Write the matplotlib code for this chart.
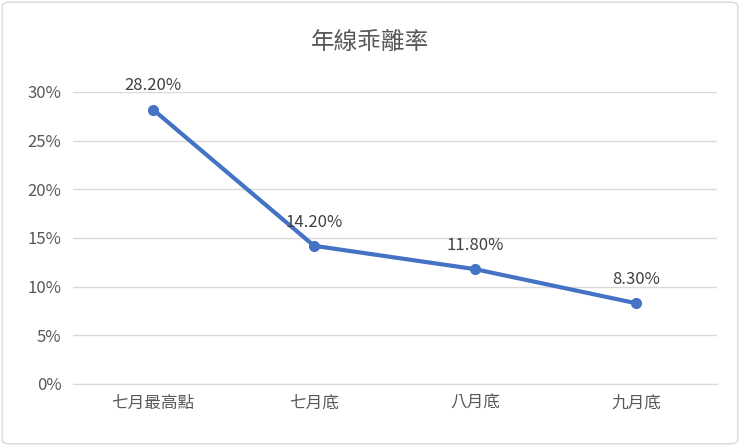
import matplotlib
matplotlib.use("Agg")
import matplotlib.pyplot as plt
from matplotlib.patches import FancyBboxPatch

categories = ["七月最高點", "七月底", "八月底", "九月底"]
values = [28.2, 14.2, 11.8, 8.3]
yticks = [0, 5, 10, 15, 20, 25, 30]

plt.rcParams['font.family'] = ['Noto Sans CJK TC', 'DejaVu Sans']
fig = plt.figure(figsize=(7.4, 4.46), dpi=100)
fig.patches.append(FancyBboxPatch((0.003, 0.005), 0.994, 0.99, boxstyle="round,pad=0,rounding_size=0.01",
                                  transform=fig.transFigure, fill=False, edgecolor="#D9D9D9", lw=1))
ax = fig.add_axes([72.5/740, (446-384)/446, (716.5-72.5)/740, (384-92)/446])
x = list(range(len(categories)))
ax.plot(x, values, color="#4472C4", lw=3, marker="o", markersize=7, zorder=3)
for xi, v in zip(x, values):
    ax.annotate(f"{v:.2f}%", (xi, v), xytext=(0, 11), textcoords="offset points",
                ha="center", va="bottom", fontsize=12, color="#404040")
ax.set_xlim(-0.5, len(categories)-0.5)
ax.set_ylim(0, 30)
ax.set_yticks(yticks)
ax.set_yticklabels([f"{t}%" for t in yticks], fontsize=12, color="#595959")
ax.set_xticks(x)
ax.set_xticklabels(categories, fontsize=12, color="#595959")
ax.grid(axis="y", color="#D9D9D9", lw=1)
ax.set_axisbelow(True)
for s in ["top", "right", "left"]:
    ax.spines[s].set_visible(False)
ax.spines["bottom"].set_color("#D9D9D9")
ax.tick_params(length=0, pad=8)
fig.text(0.5, 1-42/446, "年線乖離率", ha="center", va="center", fontsize=17, color="#595959")
fig.savefig("out.png", dpi=100)
